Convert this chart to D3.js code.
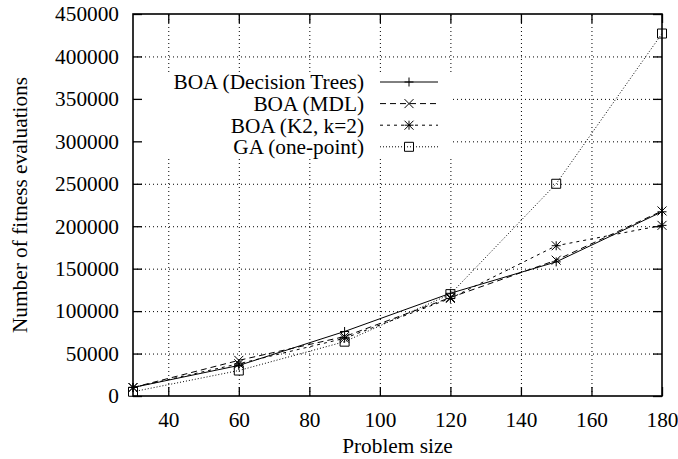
<!DOCTYPE html>
<html>
<head>
<meta charset="utf-8">
<script src="https://cdn.jsdelivr.net/npm/d3@7"></script>
<style>
  body { margin: 0; background: #fff; }
  svg { display: block; }
  svg text { font-family: 'Liberation Serif', 'DejaVu Serif', serif; font-size: 21.3px; fill: #000; }
</style>
</head>
<body>
<div class="figure"></div>
<script>
// problem sizes on the x axis
const sizes = [30, 60, 90, 120, 150, 180];

// fitness evaluations for each method
const boaTrees = [10000, 36000, 76000, 121000, 158000, 217000];
const boaMDL = [10000, 42000, 70000, 116000, 160000, 218000];
const boaK2 = [10000, 38000, 68000, 115000, 177000, 201000];
const gaOnePoint = [5000, 30000, 64000, 120000, 250000, 427000];

const seriesNames = ['BOA (Decision Trees)', 'BOA (MDL)', 'BOA (K2, k=2)', 'GA (one-point)'];

const xTicks = [40, 60, 80, 100, 120, 140, 160, 180];
const yTicks = [0, 50000, 100000, 150000, 200000, 250000, 300000, 350000, 400000, 450000];

const svg = d3.select('.figure')
  .append('svg')
  .attr('width', 678)
  .attr('height', 459);

const margin = {top: 14, right: 16, bottom: 63, left: 133};
const graphWidth = 678 - margin.left - margin.right;
const graphHeight = 459 - margin.top - margin.bottom;

const graph = svg.append('g')
  .attr('transform', `translate(${margin.left}, ${margin.top})`);

const x = d3.scaleLinear().domain([30, 180]).range([0, graphWidth]);
const y = d3.scaleLinear().domain([0, 450000]).range([graphHeight, 0]);

// dotted grid
const gridX = graph.append('g')
  .attr('transform', `translate(0, ${graphHeight})`)
  .call(d3.axisBottom(x).tickValues([40, 60, 80, 100, 120, 140, 160]).tickSize(-graphHeight).tickFormat(''));
const gridY = graph.append('g')
  .call(d3.axisLeft(y).tickValues([50000, 100000, 150000, 200000, 250000, 300000, 350000, 400000]).tickSize(-graphWidth).tickFormat(''));
[gridX, gridY].forEach(g => {
  g.select('.domain').remove();
  g.selectAll('line').attr('stroke', '#000').attr('stroke-width', 1).attr('stroke-dasharray', '1,3');
});

// legend background hides grid behind the key
graph.append('rect')
  .attr('x', 1)
  .attr('y', 72 - margin.top)
  .attr('width', 452 - margin.left)
  .attr('height', 87)
  .attr('fill', '#fff');

// axes with inward ticks on all four sides (gnuplot style)
const xAxis = graph.append('g')
  .attr('transform', `translate(0, ${graphHeight})`)
  .call(d3.axisBottom(x).tickValues(xTicks).tickSizeInner(-9).tickSizeOuter(0).tickPadding(16));
const xTop = graph.append('g')
  .call(d3.axisTop(x).tickValues(xTicks).tickSizeInner(-9).tickSizeOuter(0).tickFormat(''));
const yAxis = graph.append('g')
  .call(d3.axisLeft(y).tickValues(yTicks).tickSizeInner(-9).tickSizeOuter(0).tickPadding(14).tickFormat(d3.format('d')));
const yRight = graph.append('g')
  .attr('transform', `translate(${graphWidth}, 0)`)
  .call(d3.axisRight(y).tickValues(yTicks).tickSizeInner(-9).tickSizeOuter(0).tickFormat(''));

[xAxis, xTop, yAxis, yRight].forEach(g => {
  g.attr('font-family', null).attr('font-size', null);
  g.select('.domain').remove();
  g.selectAll('line').attr('stroke', '#000').attr('stroke-width', 1.3);
});

graph.append('rect')
  .attr('width', graphWidth)
  .attr('height', graphHeight)
  .attr('fill', 'none')
  .attr('stroke', '#000')
  .attr('stroke-width', 1.6);

// axis titles
svg.append('text')
  .attr('x', margin.left + graphWidth / 2)
  .attr('y', 453)
  .attr('text-anchor', 'middle')
  .text('Problem size');

svg.append('text')
  .attr('transform', 'translate(27, 205) rotate(-90)')
  .attr('text-anchor', 'middle')
  .text('Number of fitness evaluations');

// marker shapes
const drawMarker = (g, type, cx, cy) => {
  const s = 4.5;
  const path = (d) => g.append('path').attr('d', d)
    .attr('stroke', '#000').attr('stroke-width', 1).attr('fill', 'none');
  if (type === 'plus' || type === 'star') path(`M${cx - s},${cy}H${cx + s}M${cx},${cy - s}V${cy + s}`);
  if (type === 'cross' || type === 'star') path(`M${cx - s},${cy - s}L${cx + s},${cy + s}M${cx - s},${cy + s}L${cx + s},${cy - s}`);
  if (type === 'square') path(`M${cx - s},${cy - s}h${2 * s}v${2 * s}h${-2 * s}Z`);
};

const series = [
  {name: seriesNames[0], values: boaTrees, dash: null, marker: 'plus'},
  {name: seriesNames[1], values: boaMDL, dash: '6,4', marker: 'cross'},
  {name: seriesNames[2], values: boaK2, dash: '3,4', marker: 'star'},
  {name: seriesNames[3], values: gaOnePoint, dash: '1,2', marker: 'square'}
];

const line = d3.line()
  .x((d, i) => x(sizes[i]))
  .y(d => y(d));

series.forEach(s => {
  graph.append('path')
    .attr('d', line(s.values))
    .attr('fill', 'none')
    .attr('stroke', '#000')
    .attr('stroke-width', 1)
    .attr('stroke-dasharray', s.dash);
  const mg = graph.append('g');
  s.values.forEach((v, i) => drawMarker(mg, s.marker, x(sizes[i]), y(v)));
});

// legend
const legend = svg.append('g');
series.forEach((s, i) => {
  const ly = 82 + i * 21.6;
  legend.append('text')
    .attr('x', 364)
    .attr('y', ly)
    .attr('dy', '0.35em')
    .attr('text-anchor', 'end')
    .text(s.name);
  legend.append('line')
    .attr('x1', 380).attr('x2', 438)
    .attr('y1', ly).attr('y2', ly)
    .attr('stroke', '#000')
    .attr('stroke-width', 1)
    .attr('stroke-dasharray', s.dash);
  drawMarker(legend, s.marker, 409, ly);
});
</script>
</body>
</html>
